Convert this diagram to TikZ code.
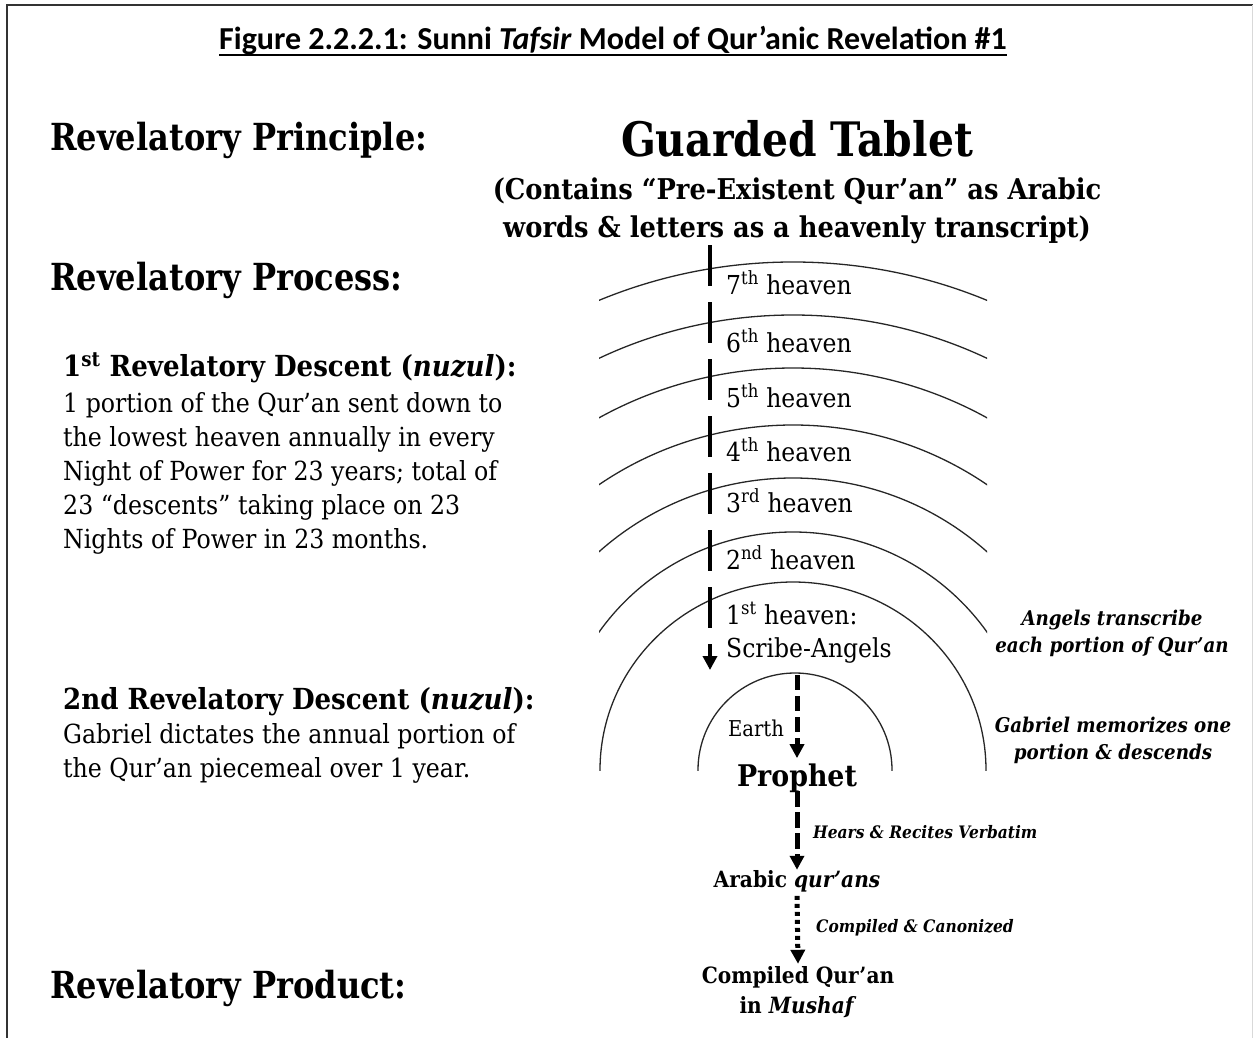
\documentclass[tikz,border=0pt]{standalone}
\usepackage{fontspec}
\setmainfont{DejaVu Serif}[FakeStretch=0.9]
\newfontfamily\condfont{DejaVu Serif}[FakeStretch=0.86]
\newfontfamily\titlefont{Carlito}
\usetikzlibrary{arrows.meta}

\tikzset{
  bighead/.style={anchor=base west, inner sep=0pt, font=\condfont\bfseries\fontsize{37.3}{40}\selectfont},
  subhead/.style={anchor=base west, inner sep=0pt, font=\bfseries\fontsize{29}{30}\selectfont},
  bodytext/.style={anchor=base west, inner sep=0pt, align=left, font=\fontsize{26.3}{34}\selectfont},
  heavenlbl/.style={anchor=base west, inner sep=0pt, font=\fontsize{26.1}{26}\selectfont},
  flowlbl/.style={anchor=base, inner sep=0pt, align=center, font=\bfseries\fontsize{22.4}{30}\selectfont},
  sidenote/.style={anchor=base, inner sep=0pt, align=center, font=\bfseries\itshape\fontsize{20.3}{27}\selectfont},
  arrownote/.style={anchor=base west, inner sep=0pt, font=\bfseries\itshape\fontsize{17.2}{18}\selectfont},
  ring/.style={line width=1.3pt, black!85},
  tip/.style={-{Triangle[length=14pt,width=14pt]}},
}

\begin{document}
\begin{tikzpicture}[x=1pt, y=-1pt]

  \def\xC{793}
  \def\yC{770}
  \def\xPath{710}
  \def\xMid{797}

  \useasboundingbox (0,0) rectangle (1253,1038);

  % frame
  \draw[line width=2pt, black!80] (1253,5) -- (7,5) -- (7,1038);
  \draw[black!15] (1252,5) -- (1252,1038);

  % ── title ───────────────────────────────────────────────
  \node[anchor=base, inner sep=0pt, font=\titlefont\bfseries\fontsize{32}{34}\selectfont]
    (title) at (613,50) {Figure 2.2.2.1: Sunni \textit{Tafsir} Model of Qur’anic Revelation \#1};
  \draw[line width=1.8pt] ([yshift=-5pt]title.base west) -- ([yshift=-5pt]title.base east);

  % ── left column ─────────────────────────────────────────
  \node[bighead] (principle) at (50,150) {Revelatory Principle:};
  \node[bighead] (process) at (50,290) {Revelatory Process:};
  \node[bighead] (product) at (50,998) {Revelatory Product:};

  \node[subhead] (firsthead) at (63,376) {1\textsuperscript{st} Revelatory Descent (\textit{nuzul}):};
  \node[bodytext] (firstbody) at (63,548) {1 portion of the Qur’an sent down to\\
    the lowest heaven annually in every\\
    Night of Power for 23 years; total of\\
    23 “descents” taking place on 23\\
    Nights of Power in 23 months.};

  \node[subhead] (secondhead) at (63,709) {2nd Revelatory Descent (\textit{nuzul}):};
  \node[bodytext] (secondbody) at (63,777) {Gabriel dictates the annual portion of\\
    the Qur’an piecemeal over 1 year.};

  % ── guarded tablet ──────────────────────────────────────
  \node[anchor=base, inner sep=0pt, font=\condfont\bfseries\fontsize{47.5}{50}\selectfont]
    (tablet) at (\xMid,157) {Guarded Tablet};
  \node[anchor=base, inner sep=0pt, align=center, font=\bfseries\fontsize{28.6}{38}\selectfont]
    (tabletnote) at (\xMid,237) {(Contains “Pre-Existent Qur’an” as Arabic\\
    words \& letters as a heavenly transcript)};

  % ── heavens ─────────────────────────────────────────────
  \begin{scope}
    \clip (599,0) rectangle (987,770.5);
    \foreach \r in {508,455,402,345,292,238}{
      \draw[ring] (\xC,\yC) circle[radius=\r];
    }
    \draw[ring] (\xC,\yC) ellipse[x radius=193, y radius=188];
    \draw[ring] (795,\yC) circle[radius=97];
  \end{scope}

  \node[heavenlbl] (h7) at (726,294) {7\textsuperscript{th} heaven};
  \node[heavenlbl] (h6) at (726,352) {6\textsuperscript{th} heaven};
  \node[heavenlbl] (h5) at (726,407) {5\textsuperscript{th} heaven};
  \node[heavenlbl] (h4) at (726,461) {4\textsuperscript{th} heaven};
  \node[heavenlbl] (h3) at (726,512) {3\textsuperscript{rd} heaven};
  \node[heavenlbl] (h2) at (726,569) {2\textsuperscript{nd} heaven};
  \node[heavenlbl] (h1) at (726,624) {1\textsuperscript{st} heaven:};
  \node[heavenlbl] (scribes) at (726,657) {Scribe-Angels};
  \node[anchor=base, inner sep=0pt, font=\fontsize{21.8}{22}\selectfont] (earth) at (756,736) {Earth};

  % ── flow down to the mushaf ─────────────────────────────
  \node[flowlbl, font=\bfseries\fontsize{29.8}{30}\selectfont] (prophet) at (\xMid,786) {Prophet};
  \node[flowlbl] (arabic) at (\xMid,887) {Arabic \textit{qur’ans}};
  \node[flowlbl] (mushaf) at (798,1013) {Compiled Qur’an\\in \textit{Mushaf}};

  \node[arrownote] (hears) at (813,838) {Hears \& Recites Verbatim};
  \node[arrownote] (canon) at (816,932) {Compiled \& Canonized};

  \node[sidenote] (angels) at (1112,652) {Angels transcribe\\each portion of Qur’an};
  \node[sidenote] (gabriel) at (1113,759) {Gabriel memorizes one\\portion \& descends};

  \coordinate (tabletfoot) at (\xPath,245);
  \coordinate (heavenfoot) at (\xPath,670);
  \coordinate (earthtop) at (\xMid,675);

  \draw[tip, line width=4.5pt, dash pattern=on 41pt off 16pt] (tabletfoot) -- (heavenfoot);
  \draw[tip, line width=5pt, dash pattern=on 15pt off 6pt] (earthtop) -- ([yshift=5pt]prophet.north);
  \draw[tip, line width=5pt, dash pattern=on 16pt off 5pt] ([yshift=1pt]prophet.south) -- (arabic.north);
  \draw[tip, line width=5pt, dash pattern=on 4pt off 4pt] ([yshift=-4pt]arabic.south) -- ([yshift=2pt]mushaf.north);

\end{tikzpicture}
\end{document}
